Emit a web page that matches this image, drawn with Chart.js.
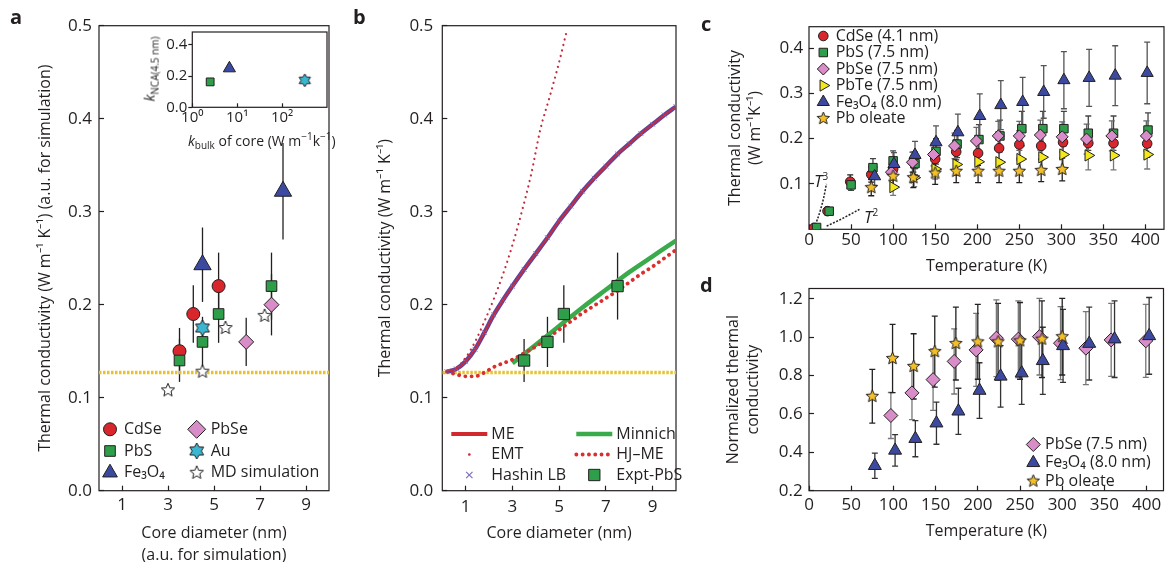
<!DOCTYPE html>
<html>
<head>
<meta charset="utf-8">
<title>Nanocrystal array thermal conductivity</title>
<script src="https://cdn.jsdelivr.net/npm/chart.js@4.4.1/dist/chart.umd.min.js"></script>
<style>
  body { margin: 0; background: #fff; }
  #fig { position: relative; width: 1172px; height: 562px; overflow: hidden; background: #fff;
         font-family: "Open Sans", sans-serif; color: #231f20; }
  #fig canvas { position: absolute; }
  .panel { position: absolute; font-size: 20px; font-weight: bold; line-height: 20px; }
  .note { position: absolute; white-space: nowrap; font-size: 14px; line-height: 16px; }
  .note sub, .note sup { font-size: 10px; }
</style>
</head>
<body>
<div id="fig">
  <canvas id="chartA" width="340" height="562" style="left:0px;top:0px"></canvas>
  <canvas id="chartInset" width="190" height="106" style="left:145px;top:24px"></canvas>
  <canvas id="chartB" width="345" height="562" style="left:340px;top:0px"></canvas>
  <canvas id="chartC" width="482" height="280" style="left:690px;top:0px"></canvas>
  <canvas id="chartD" width="482" height="282" style="left:690px;top:280px"></canvas>

  <div class="panel" style="left:10px;top:7px">a</div>
  <div class="panel" style="left:353px;top:7px">b</div>
  <div class="panel" style="left:701px;top:14px">c</div>
  <div class="panel" style="left:700px;top:275px">d</div>

  <div class="note" style="left:152px;top:69px;transform:translate(-50%,-50%) rotate(-90deg)"><i>k</i><sub>NCA(4.5 nm)</sub></div>
  <div class="note" style="left:188px;top:128px;width:146px;text-align:center"><i>k</i><sub>bulk</sub> of core (W m<sup>−1</sup>k<sup>−1</sup>)</div>
  <div class="note" style="left:814px;top:168px;font-size:17px"><i>T</i><sup>3</sup></div>
  <div class="note" style="left:864px;top:204px;font-size:17px"><i>T</i><sup>2</sup></div>
</div>

<script>
// ---------- panel a : k vs core diameter ----------
const coreTicks = [1, 3, 5, 7, 9];
const kTicks = [0, 0.1, 0.2, 0.3, 0.4, 0.5];
const cdseDiam = [3.5, 4.1, 5.2];
const cdseK = [0.15, 0.19, 0.22];
const cdseErr = [0.025, 0.031, 0.036];
const pbsDiam = [3.5, 4.5, 5.2, 7.5];
const pbsK = [0.14, 0.16, 0.19, 0.22];
const pbsErr = [0.023, 0.027, 0.031, 0.036];
const feDiam = [4.5, 8.0];
const feK = [0.243, 0.322];
const feErr = [0.04, 0.052];
const pbseDiam = [6.4, 7.5];
const pbseK = [0.16, 0.2];
const pbseErr = [0.026, 0.033];
const auDiam = [4.5];
const auK = [0.175];
const mdDiam = [3.0, 4.5, 5.5, 7.2];
const mdK = [0.108, 0.128, 0.175, 0.188];
const ligandDiam = [0, 10];
const ligandK = [0.127, 0.127];

// inset : k of 4.5 nm NCs vs bulk k of the core
const bulkPbS = [2.5], ncaPbS = [0.163];
const bulkFe = [6.7], ncaFe = [0.25];
const bulkAu = [320], ncaAu = [0.173];
const insetXTicks = [1, 10, 100];
const insetYTicks = [0, 0.2, 0.4];

// ---------- panel b : models ----------
const meDiam = [0.2, 0.6, 1.0, 1.4, 1.8, 2.2, 2.6, 3.0, 3.5, 4.0, 4.5, 5.0, 5.5, 6.0, 6.5, 7.0, 7.5, 8.0, 8.5, 9.0, 9.5, 10];
const meK = [0.128, 0.131, 0.139, 0.152, 0.170, 0.189, 0.205, 0.220, 0.238, 0.255, 0.272, 0.290, 0.306, 0.322, 0.336, 0.349, 0.362, 0.373, 0.384, 0.394, 0.404, 0.413];
const hashinK = [0.128, 0.131, 0.139, 0.152, 0.170, 0.189, 0.205, 0.220, 0.238, 0.255, 0.272, 0.290, 0.306, 0.322, 0.336, 0.349, 0.362, 0.373, 0.384, 0.394, 0.404, 0.413];
const emtDiam = [0.2, 0.6, 1.0, 1.4, 1.8, 2.2, 2.6, 3.0, 3.4, 3.8, 4.2, 4.6, 5.0, 5.32];
const emtK = [0.128, 0.132, 0.143, 0.160, 0.182, 0.206, 0.233, 0.264, 0.300, 0.340, 0.389, 0.424, 0.461, 0.494];
const minnichDiam = [3, 4, 5, 6, 7, 8, 9, 10];
const minnichK = [0.137, 0.157, 0.177, 0.197, 0.216, 0.235, 0.252, 0.269];
const hjmeK = [0.128, 0.125, 0.123, 0.123, 0.127, 0.133, 0.137, 0.141, 0.148, 0.155, 0.164, 0.173, 0.182, 0.191, 0.199, 0.207, 0.215, 0.224, 0.233, 0.241, 0.250, 0.259];

// ---------- panel c : k vs temperature ----------
const tTicks = [0, 50, 100, 150, 200, 250, 300, 350, 400];
const cTicks = [0.1, 0.2, 0.3, 0.4];
const cdseT = [6, 22, 49, 74, 100, 124, 150, 175, 201, 226, 250, 276, 302, 332, 362, 402];
const cdseKT = [0.003, 0.04, 0.105, 0.121, 0.133, 0.148, 0.155, 0.171, 0.168, 0.179, 0.187, 0.184, 0.192, 0.19, 0.19, 0.189];
const cdseErrT = [0, 0, 0.015, 0.017, 0.02, 0.022, 0.024, 0.026, 0.027, 0.028, 0.03, 0.03, 0.03, 0.03, 0.03, 0.03];
const pbsT = [9, 24, 50, 76, 100, 126, 151, 176, 202, 227, 253, 278, 303, 332, 362, 403];
const pbsKT = [0.004, 0.04, 0.098, 0.136, 0.151, 0.145, 0.172, 0.188, 0.198, 0.206, 0.222, 0.222, 0.222, 0.212, 0.212, 0.219];
const pbsErrT = [0, 0, 0.012, 0.02, 0.022, 0.025, 0.028, 0.03, 0.033, 0.035, 0.038, 0.038, 0.038, 0.038, 0.038, 0.038];
const pbseT = [98, 123, 148, 173, 199, 225, 250, 275, 301, 330, 360, 401];
const pbseKT = [0.126, 0.148, 0.165, 0.184, 0.195, 0.206, 0.206, 0.208, 0.204, 0.199, 0.206, 0.206];
const pbseErrT = [0.018, 0.022, 0.025, 0.028, 0.03, 0.032, 0.032, 0.033, 0.033, 0.033, 0.033, 0.033];
const pbteT = [100, 125, 150, 175, 201, 226, 251, 277, 302, 332, 362, 402];
const pbteKT = [0.093, 0.114, 0.133, 0.143, 0.149, 0.148, 0.155, 0.159, 0.165, 0.163, 0.163, 0.165];
const pbteErrT = [0.018, 0.02, 0.022, 0.024, 0.025, 0.025, 0.027, 0.027, 0.03, 0.032, 0.032, 0.032];
const feT = [78, 101, 126, 151, 177, 203, 228, 254, 279, 303, 333, 364, 402];
const feKT = [0.117, 0.144, 0.164, 0.192, 0.214, 0.25, 0.274, 0.281, 0.303, 0.329, 0.334, 0.339, 0.345];
const feErrT = [0.02, 0.025, 0.03, 0.036, 0.04, 0.049, 0.054, 0.054, 0.058, 0.063, 0.063, 0.066, 0.068];
const oleateT = [74, 100, 124, 150, 175, 201, 226, 250, 276, 301];
const oleateKT = [0.092, 0.117, 0.114, 0.124, 0.128, 0.128, 0.128, 0.128, 0.13, 0.132];
const oleateErrT = [0.018, 0.02, 0.022, 0.025, 0.025, 0.025, 0.025, 0.025, 0.025, 0.025];
// low temperature guide lines
const cubeT = [6, 10, 14, 17.5, 20.7];
const cubeK = [0.003, 0.022, 0.045, 0.07, 0.1];
const squareT = [21, 30, 40, 50, 60];
const squareK = [0.007, 0.015, 0.024, 0.034, 0.044];

// ---------- panel d : normalized k ----------
const nTicks = [0.2, 0.4, 0.6, 0.8, 1.0, 1.2];
const pbseTn = [97, 122, 147, 172, 198, 222, 248, 273, 298, 328, 358, 399];
const pbseN = [0.592, 0.71, 0.779, 0.874, 0.934, 0.995, 0.99, 1.003, 0.969, 0.943, 0.986, 0.981];
const pbseErrN = [0.12, 0.14, 0.16, 0.17, 0.19, 0.2, 0.2, 0.2, 0.19, 0.19, 0.19, 0.19];
const feTn = [78, 102, 126, 151, 177, 202, 227, 252, 277, 301, 332, 362, 403];
const feN = [0.33, 0.41, 0.471, 0.552, 0.614, 0.722, 0.796, 0.813, 0.877, 0.955, 0.967, 0.99, 1.007];
const feErrN = [0.066, 0.082, 0.094, 0.11, 0.12, 0.145, 0.16, 0.163, 0.175, 0.19, 0.19, 0.2, 0.2];
const oleateTn = [75, 99, 124, 149, 174, 200, 224, 250, 276, 300];
const oleateN = [0.692, 0.889, 0.848, 0.925, 0.967, 0.976, 0.976, 0.981, 0.99, 1.003];
const oleateErrN = [0.14, 0.178, 0.17, 0.185, 0.19, 0.195, 0.2, 0.2, 0.2, 0.2];

// ---------- styling ----------
const ink = '#231f20';
const fam = '"Open Sans", sans-serif';
const red = '#d9262c', green = '#2f9e4a', blue = '#3b4aa0', pink = '#d88cc8';
const cyan = '#3bb6d0', lemon = '#f3e81a', gold = '#f4c02a';
Chart.defaults.font.family = fam;
Chart.defaults.color = ink;

function pts(xs, ys) {
    return xs.map((x, i) => ({ x: x, y: ys[i] }));
}

// star shaped markers drawn on a small canvas
function starImage(r, fill, n, inner) {
    const c = document.createElement('canvas');
    const s = Math.ceil(2 * r + 4);
    c.width = s;
    c.height = s;
    const g = c.getContext('2d');
    g.translate(s / 2, s / 2);
    g.beginPath();
    for (let k = 0; k < 2 * n; k++) {
        const rr = k % 2 ? r * inner : r;
        const a = -Math.PI / 2 + k * Math.PI / n;
        g.lineTo(rr * Math.cos(a), rr * Math.sin(a));
    }
    g.closePath();
    g.fillStyle = fill;
    g.fill();
    g.lineWidth = 1;
    g.strokeStyle = ink;
    g.stroke();
    return c;
}

function marker(label, xs, ys, style, r, fill, extra) {
    return Object.assign({
        label: label,
        data: pts(xs, ys),
        showLine: false,
        pointStyle: style,
        pointRadius: r,
        backgroundColor: fill,
        borderColor: ink,
        borderWidth: 1,
        order: 1
    }, extra || {});
}

function curve(label, xs, ys, color, width, extra) {
    return Object.assign({
        label: label,
        data: pts(xs, ys),
        showLine: true,
        pointRadius: 0,
        borderColor: color,
        backgroundColor: color,
        borderWidth: width,
        cubicInterpolationMode: 'monotone',
        fill: false,
        order: 10
    }, extra || {});
}

// ---------- plugins ----------
const errorBars = {
    id: 'errorBars',
    beforeDatasetsDraw(chart) {
        const ctx = chart.ctx;
        chart.data.datasets.forEach((ds, i) => {
            if (!ds.errorBars) return;
            const meta = chart.getDatasetMeta(i);
            const yScale = chart.scales[meta.yAxisID];
            const cap = ds.errorCap || 0;
            ctx.save();
            ctx.strokeStyle = ds.errorColor || ink;
            ctx.lineWidth = 1.3;
            meta.data.forEach((pt, j) => {
                const e = ds.errorBars[j];
                if (!e) return;
                const v = ds.data[j].y;
                const y1 = yScale.getPixelForValue(v + e);
                const y2 = yScale.getPixelForValue(v - e);
                ctx.beginPath();
                ctx.moveTo(pt.x, y1);
                ctx.lineTo(pt.x, y2);
                if (cap) {
                    ctx.moveTo(pt.x - cap, y1); ctx.lineTo(pt.x + cap, y1);
                    ctx.moveTo(pt.x - cap, y2); ctx.lineTo(pt.x + cap, y2);
                }
                ctx.stroke();
            });
            ctx.restore();
        });
    }
};

const frame = {
    id: 'frame',
    beforeDatasetsDraw(chart) {
        const a = chart.chartArea, ctx = chart.ctx;
        ctx.save();
        ctx.strokeStyle = ink;
        ctx.lineWidth = 1.2;
        ctx.strokeRect(a.left, a.top, a.right - a.left, a.bottom - a.top);
        ctx.restore();
    }
};

// legend layouts, kept outside the chart options so they stay plain objects
const legendSpecs = {
    chartA: { rows: 3, x: 11, y: 403.6, colWidth: 86.7, rowHeight: 21.7, gap: 14,
              items: [{ ds: 0, text: 'CdSe' }, { ds: 1, text: 'PbS' }, { ds: 2, text: 'Fe₃O₄', r: 8.5 },
                      { ds: 3, text: 'PbSe', r: 9 }, { ds: 4, text: 'Au' }, { ds: 5, text: 'MD simulation' }] },
    chartB: { rows: 3, x: 27, y: 408.3, colWidth: 125, rowHeight: 20.5, gap: 22, lineLen: 36,
              items: [{ ds: 0, text: 'ME', line: true, lw: 4 },
                      { ds: 1, text: 'EMT', mStyle: 'circle', r: 1.3, bw: 0.1, mFill: '#c52b3b', mStroke: '#c52b3b' },
                      { ds: 2, text: 'Hashin LB', mStyle: 'crossRot', r: 4.5, mStroke: '#7f6fbf', bw: 1.2 },
                      { ds: 3, text: 'Minnich', line: true },
                      { ds: 4, text: 'HJ–ME', line: true },
                      { ds: 5, text: 'Expt-PbS' }] },
    chartC: { rows: 6, x: 14.3, y: 9.3, colWidth: 0, rowHeight: 16.5, gap: 12.4,
              items: [{ ds: 0, text: 'CdSe (4.1 nm)' }, { ds: 1, text: 'PbS (7.5 nm)' },
                      { ds: 2, text: 'PbSe (7.5 nm)' }, { ds: 3, text: 'PbTe (7.5 nm)' },
                      { ds: 4, text: 'Fe₃O₄ (8.0 nm)' }, { ds: 5, text: 'Pb oleate' }] },
    chartD: { rows: 3, x: 224.3, y: 156, colWidth: 0, rowHeight: 18.3, gap: 11.7,
              items: [{ ds: 0, text: 'PbSe (7.5 nm)' }, { ds: 1, text: 'Fe₃O₄ (8.0 nm)' }, { ds: 2, text: 'Pb oleate' }] }
};

// legend drawn inside the plot area
const insideLegend = {
    id: 'insideLegend',
    afterDatasetsDraw(chart) {
        const spec = legendSpecs[chart.canvas.id];
        if (!spec) return;
        const ctx = chart.ctx, area = chart.chartArea;
        ctx.save();
        ctx.font = '16px ' + fam;
        ctx.textBaseline = 'middle';
        spec.items.forEach((item, k) => {
            const col = Math.floor(k / spec.rows);
            const row = k % spec.rows;
            const x = area.left + spec.x + col * spec.colWidth;
            const y = area.top + spec.y + row * spec.rowHeight;
            const ds = chart.data.datasets[item.ds];
            if (item.line) {
                ctx.save();
                ctx.strokeStyle = ds.borderColor;
                ctx.lineWidth = item.lw || ds.borderWidth;
                ctx.setLineDash(ds.borderDash || []);
                ctx.lineCap = ds.borderCapStyle || 'butt';
                ctx.beginPath();
                ctx.moveTo(x - spec.lineLen / 2, y);
                ctx.lineTo(x + spec.lineLen / 2, y);
                ctx.stroke();
                ctx.restore();
            } else {
                ctx.save();
                ctx.fillStyle = item.mFill || ds.backgroundColor;
                ctx.strokeStyle = item.mStroke || ds.borderColor;
                ctx.lineWidth = item.bw || ds.borderWidth || 1;
                Chart.helpers.drawPoint(ctx, {
                    pointStyle: item.mStyle || ds.pointStyle,
                    rotation: ds.rotation || 0,
                    radius: item.r || ds.pointRadius,
                    borderWidth: ctx.lineWidth
                }, x, y);
                ctx.restore();
            }
            ctx.fillStyle = ink;
            ctx.fillText(item.text, x + spec.gap, y);
        });
        ctx.restore();
    }
};

// ---------- axes ----------
function fixAxis(size) {
    return function (scale) {
        if (scale.isHorizontal()) scale.height = size; else scale.width = size;
        scale.paddingTop = 0;
        scale.paddingBottom = 0;
        scale.paddingLeft = 0;
        scale.paddingRight = 0;
    };
}

function axis(o) {
    const horiz = o.pos === 'bottom';
    return {
        type: o.type || 'linear',
        position: o.pos,
        min: o.min,
        max: o.max,
        afterBuildTicks: s => { s.ticks = o.ticks.map(v => ({ value: v })); },
        afterFit: fixAxis(o.size),
        border: { display: false },
        grid: { drawOnChartArea: false, tickLength: o.tl === undefined ? -5 : o.tl, tickWidth: 1.2, color: ink },
        ticks: { color: ink, font: { family: fam, size: o.tickSize || 17 }, padding: o.pad, callback: o.fmt },
        title: o.title ? {
            display: true,
            text: o.title,
            color: ink,
            font: { family: fam, size: 16, lineHeight: o.lh || 1.25 },
            padding: horiz ? { top: 0, bottom: o.tpad } : { top: o.tpad, bottom: 0 }
        } : { display: false }
    };
}

function options(pad, x, y) {
    return {
        responsive: false,
        animation: false,
        events: [],
        layout: { padding: pad },
        scales: { x: x, y: y },
        plugins: {
            legend: { display: false },
            tooltip: { enabled: false }
        }
    };
}

const oneDec = v => Number(v).toFixed(1);
const plain = v => String(v);
const supDigits = ['⁰', '¹', '²', '³'];
const powTen = v => '10' + supDigits[Math.round(Math.log10(v))];
const plugins = [frame, errorBars, insideLegend];

// ---------- panel a ----------
const starWhiteA = starImage(7, '#ffffff', 5, 0.45);
const hexCyanA = starImage(8, cyan, 6, 0.58);
new Chart(document.getElementById('chartA'), {
    type: 'scatter',
    data: {
        datasets: [
            marker('CdSe', cdseDiam, cdseK, 'circle', 6.5, red, { errorBars: cdseErr, order: 3 }),
            marker('PbS', pbsDiam, pbsK, 'rect', 7.5, green, { errorBars: pbsErr, order: 2 }),
            marker('Fe₃O₄', feDiam, feK, 'triangle', 10, blue, { errorBars: feErr }),
            marker('PbSe', pbseDiam, pbseK, 'rectRot', 7.5, pink, { errorBars: pbseErr }),
            marker('Au', auDiam, auK, hexCyanA, 5, cyan),
            marker('MD simulation', mdDiam, mdK, starWhiteA, 5, '#ffffff'),
            curve('Pb oleate', ligandDiam, ligandK, '#e9c229', 3.5, { borderDash: [2.5, 1.5], cubicInterpolationMode: 'default' })
        ]
    },
    options: options({ top: 25.7, right: 8 },
        axis({ pos: 'bottom', min: 0, max: 10, ticks: coreTicks, fmt: plain, size: 71.3, pad: 9,
               title: ['Core diameter (nm)', '(a.u. for simulation)'], lh: 1.375, tpad: -4 }),
        axis({ pos: 'left', min: 0, max: 0.5, ticks: kTicks, fmt: oneDec, size: 99, pad: 12,
               title: 'Thermal conductivity (W m⁻¹ K⁻¹) (a.u. for simulation)', tpad: 35 })),
    plugins: plugins
});

// ---------- inset ----------
const hexCyanI = starImage(6.5, cyan, 6, 0.58);
new Chart(document.getElementById('chartInset'), {
    type: 'scatter',
    data: {
        datasets: [
            marker('PbS', bulkPbS, ncaPbS, 'rect', 5.5, green),
            marker('Fe₃O₄', bulkFe, ncaFe, 'triangle', 7, blue),
            marker('Au', bulkAu, ncaAu, hexCyanI, 5, cyan)
        ]
    },
    options: options({ top: 5.3, right: 6.7 },
        axis({ pos: 'bottom', type: 'logarithmic', min: 1, max: 1000, ticks: insetXTicks, fmt: powTen,
               size: 22.7, pad: 5, tl: -4, tickSize: 15 }),
        axis({ pos: 'left', min: 0, max: 0.483, ticks: insetYTicks, fmt: oneDec, size: 47.3, pad: 1,
               tl: 4, tickSize: 15 })),
    plugins: [frame]
});

// ---------- panel b ----------
new Chart(document.getElementById('chartB'), {
    type: 'scatter',
    data: {
        datasets: [
            curve('ME', meDiam, meK, '#d12a2e', 1.6, { order: 4 }),
            curve('EMT', emtDiam, emtK, '#c52b3b', 2.2, { borderDash: [0.1, 5.5], borderCapStyle: 'round', order: 5 }),
            curve('Hashin LB', meDiam, hashinK, '#5f45a3', 4.5, { order: 6, pointRadius: 3.5, pointStyle: 'crossRot', pointBorderColor: '#8a7cc6', pointBorderWidth: 1 }),
            curve('Minnich', minnichDiam, minnichK, '#3aab4a', 4.5, { order: 8 }),
            curve('HJ–ME', meDiam, hjmeK, '#da2f2f', 3.8, { borderDash: [0.1, 6.2], borderCapStyle: 'round', order: 7 }),
            marker('Expt-PbS', pbsDiam, pbsK, 'rect', 8, green, { errorBars: pbsErr, order: 1 }),
            curve('Pb oleate', ligandDiam, ligandK, '#e9c229', 3.5, { borderDash: [2.5, 1.5], cubicInterpolationMode: 'default', order: 9 })
        ]
    },
    options: options({ top: 25.7, right: 9 },
        axis({ pos: 'bottom', min: 0, max: 10, ticks: coreTicks, fmt: plain, size: 71.3, pad: 11,
               title: 'Core diameter (nm)', tpad: 18.7 }),
        axis({ pos: 'left', min: 0, max: 0.5, ticks: kTicks, fmt: oneDec, size: 102.3, pad: 14,
               title: 'Thermal conductivity (W m⁻¹ K⁻¹)', tpad: 35 })),
    plugins: plugins
});

// ---------- panel c ----------
const starGoldC = starImage(6.5, gold, 5, 0.45);
new Chart(document.getElementById('chartC'), {
    type: 'scatter',
    data: {
        datasets: [
            marker('CdSe (4.1 nm)', cdseT, cdseKT, 'circle', 4.8, red, { errorBars: cdseErrT, errorCap: 3, order: 6 }),
            marker('PbS (7.5 nm)', pbsT, pbsKT, 'rect', 6, green, { errorBars: pbsErrT, errorCap: 3, errorColor: '#444', order: 5 }),
            marker('PbSe (7.5 nm)', pbseT, pbseKT, 'rectRot', 6, pink, { errorBars: pbseErrT, errorCap: 3, errorColor: '#666', order: 3 }),
            marker('PbTe (7.5 nm)', pbteT, pbteKT, 'triangle', 6.5, lemon, { rotation: 90, errorBars: pbteErrT, errorCap: 3, errorColor: '#777', order: 4 }),
            marker('Fe₃O₄ (8.0 nm)', feT, feKT, 'triangle', 7, blue, { errorBars: feErrT, errorCap: 3, errorColor: '#555', order: 2 }),
            marker('Pb oleate', oleateT, oleateKT, starGoldC, 5, gold, { errorBars: oleateErrT, errorCap: 3, order: 1 }),
            curve('T3', cubeT, cubeK, ink, 1.5, { borderDash: [2, 1.5] }),
            curve('T2', squareT, squareK, ink, 1.5, { borderDash: [2, 1.5] })
        ]
    },
    options: options({ top: 26.7, right: 1 },
        axis({ pos: 'bottom', min: 0, max: 422, ticks: tTicks, fmt: plain, size: 50.7, pad: 5.5,
               title: 'Temperature (K)', tpad: 3.3 }),
        axis({ pos: 'left', min: 0, max: 0.447, ticks: cTicks, fmt: oneDec, size: 119, pad: 10.7,
               title: ['Thermal conductivity', '(W m⁻¹K⁻¹)'], tpad: 35 })),
    plugins: plugins
});

// ---------- panel d ----------
const starGoldD = starImage(6.5, gold, 5, 0.45);
new Chart(document.getElementById('chartD'), {
    type: 'scatter',
    data: {
        datasets: [
            marker('PbSe (7.5 nm)', pbseTn, pbseN, 'rectRot', 7, pink, { errorBars: pbseErrN, errorCap: 3, errorColor: '#777', order: 3 }),
            marker('Fe₃O₄ (8.0 nm)', feTn, feN, 'triangle', 7.5, blue, { errorBars: feErrN, errorCap: 3, errorColor: '#333', order: 2 }),
            marker('Pb oleate', oleateTn, oleateN, starGoldD, 5, gold, { errorBars: oleateErrN, errorCap: 3, errorColor: '#222', order: 1 })
        ]
    },
    options: options({ top: 7.3, right: 1 },
        axis({ pos: 'bottom', min: 0, max: 420, ticks: tTicks, fmt: plain, size: 71.3, pad: 9,
               title: 'Temperature (K)', tpad: 21 }),
        axis({ pos: 'left', min: 0.2, max: 1.254, ticks: nTicks, fmt: oneDec, size: 119, pad: 11.3,
               title: ['Normalized thermal', 'conductivity'], tpad: 33 })),
    plugins: plugins
});
</script>
</body>
</html>
